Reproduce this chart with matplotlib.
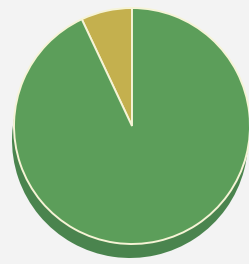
import matplotlib.pyplot as plt

# slice shares (percent)
labels = ['other', 'main']
values = [7, 93]
face_colors = ['#c4b04e', '#5c9e5a']
rim_colors = ['#a89440', '#4a844e']

fig = plt.figure(figsize=(2.49, 2.64), dpi=100)
fig.patch.set_facecolor('#f3f3f3')
ax = fig.add_axes([0, 0, 1, 1])
ax.set_facecolor('#f3f3f3')

# darker rim underneath, shifted down to look like a 3D pie
ax.pie(values, colors=rim_colors, startangle=90, counterclock=True,
       center=(130, -140), radius=118,
       wedgeprops=dict(linewidth=0))
# top face
ax.pie(values, colors=face_colors, startangle=90, counterclock=True,
       center=(132, -126), radius=118,
       wedgeprops=dict(edgecolor='#f6f4d6', linewidth=1.4))

ax.set_xlim(0, 249)
ax.set_ylim(-264, 0)
ax.set_aspect('equal')
ax.axis('off')

fig.savefig('out.png', dpi=100, facecolor=fig.get_facecolor())
